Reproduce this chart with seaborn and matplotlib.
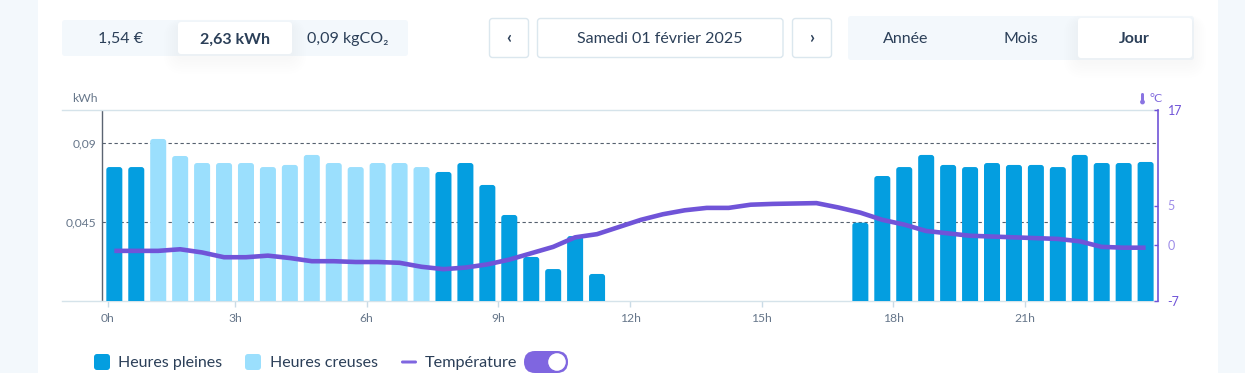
import matplotlib
matplotlib.use("Agg")
import matplotlib.pyplot as plt
import numpy as np
import pandas as pd
import seaborn as sns
from matplotlib.patches import Circle, FancyBboxPatch

creneaux = [f"{h}h{m:02d}" for h in range(24) for m in (0, 30)]
tarifs = ["Heures pleines"] * 2 + ["Heures creuses"] * 13 + ["Heures pleines"] * 33
consommation = [
    0.0763, 0.0763, 0.0923, 0.0826, 0.0786, 0.0786, 0.0786, 0.0763,
    0.0775, 0.0832, 0.0786, 0.0763, 0.0786, 0.0786, 0.0763, 0.0735,
    0.0786, 0.0661, 0.0490, 0.0251, 0.0182, 0.0370, 0.0154, np.nan,
    np.nan, np.nan, np.nan, np.nan, np.nan, np.nan, np.nan, np.nan,
    np.nan, np.nan, 0.0446, 0.0712, 0.0763, 0.0832, 0.0775, 0.0763,
    0.0786, 0.0775, 0.0775, 0.0763, 0.0832, 0.0786, 0.0786, 0.0792,
]
temperature = [
    -0.7, -0.7, -0.7, -0.5, -0.9, -1.5, -1.5, -1.3, -1.6, -2.0, -2.0, -2.1,
    -2.1, -2.2, -2.7, -3.0, -2.8, -2.4, -1.8, -1.0, -0.2, 1.0, 1.4, 2.3,
    3.2, 3.9, 4.4, 4.7, 4.7, 5.1, 5.2, 5.25, 5.3, 4.75, 4.1, 3.2,
    2.6, 1.8, 1.5, 1.2, 1.1, 1.0, 0.9, 0.8, 0.5, -0.2, -0.3, -0.3,
]
heures_labels = ["0h", "3h", "6h", "9h", "12h", "15h", "18h", "21h"]
heures_pos = [-0.3, 5.5, 11.5, 17.5, 23.5, 29.5, 35.5, 41.5]
kwh_ticks = [0.045, 0.09]
kwh_labels = ["0,045", "0,09"]
temp_ticks = [-7, 0, 5, 17]

BLUE = "#049ee0"
LIGHT = "#9bdffd"
PURPLE = "#7054d8"
INK = "#2b3f58"
SLATE = "#66768a"
PANEL = "#f3f8fc"
EDGE = "#dbe7ee"

sns.set_theme(style="white")
plt.rcParams["font.family"] = ["Lato", "DejaVu Sans"]

fig = plt.figure(figsize=(12.45, 3.73), dpi=100, facecolor=PANEL)

# page furniture, in pixel coordinates of the screenshot
ui = fig.add_axes([0, 0, 1, 1], zorder=0)
ui.set_xlim(0, 1245)
ui.set_ylim(373, 0)
ui.axis("off")


def box(x0, y0, x1, y1, fc="white", ec="none", r=3, lw=1.0, alpha=1.0):
    ui.add_patch(FancyBboxPatch((x0, y0), x1 - x0, y1 - y0, boxstyle=f"round,pad=0,rounding_size={r}",
                                fc=fc, ec=ec, lw=lw, alpha=alpha))


def shadow(x0, y0, x1, y1):
    for grow in range(14, 0, -2):
        box(x0 - grow, y0 + 4 - grow / 2, x1 + grow, y1 + 3 + grow * 1.2, fc="#b8c6d8", r=6 + grow, alpha=0.013)


def label(x, y, s, size=11.5, color=INK, ha="center", weight="normal"):
    ui.text(x, y + 1.3, s, fontsize=size, color=color, ha=ha, va="center", fontweight=weight)


ui.add_patch(plt.Rectangle((38, 0), 1180, 373, fc="white", ec="none"))

box(62, 20, 408, 56, fc=PANEL)
shadow(178, 22, 292, 54)
box(178, 22, 292, 54)
label(121, 38, "1,54 €")
label(235, 38, "2,63 kWh", weight="bold")
label(348, 38, "0,09 kgCO₂")

box(489.5, 18.5, 528.5, 57.5, ec=EDGE)
box(537.5, 18.5, 783, 57.5, ec=EDGE)
box(792.5, 18.5, 831.5, 57.5, ec=EDGE)
label(509, 36.5, "‹", size=12.5, weight="bold")
label(660, 38, "Samedi 01 février 2025")
label(812, 36.5, "›", size=12.5, weight="bold")

box(848, 16, 1194, 60, fc=PANEL)
shadow(1078, 18, 1192, 58)
box(1078, 18, 1192, 58)
label(906, 38, "Année")
label(1021, 38, "Mois")
label(1134, 38, "Jour", weight="bold")

label(72, 97, "kWh", size=8.7, color=SLATE, ha="left")
box(1141, 93, 1144, 102, fc="#8a74e2", r=1.5)
ui.add_patch(Circle((1142.5, 102), 2.4, fc="#8a74e2", ec="none"))
label(1149, 97, "°C", size=8.7, color="#7d66dc", ha="left")

box(94, 354, 110, 370, fc=BLUE)
label(118, 362, "Heures pleines", ha="left")
box(245, 354, 261, 370, fc=LIGHT)
label(270, 362, "Heures creuses", ha="left")
box(401, 360.5, 417, 363.5, fc="#7f66e0", r=1.5)
label(425, 362, "Température", ha="left", size=11.7)
box(524, 351, 568, 373, fc="#7f66e0", r=11)
ui.add_patch(Circle((557, 362), 9.5, fc="white", ec="#7f66e0", lw=1))

# chart
ax = fig.add_axes([62 / 1245, 72 / 373, 1096 / 1245, 191 / 373], zorder=1)
ax.patch.set_visible(False)
df = pd.DataFrame({"creneau": creneaux, "kwh": consommation, "tarif": tarifs})
sns.barplot(data=df, x="creneau", y="kwh", hue="tarif", order=creneaux, dodge=False, width=0.73,
            palette={"Heures pleines": BLUE, "Heures creuses": LIGHT}, saturation=1, legend=False, ax=ax, zorder=3)
ax.set_xlim(-2.385, 47.565)
ax.set_ylim(0, 0.1088)
ax.set_xlabel("")
ax.set_ylabel("")
ax.set_xticks(heures_pos, heures_labels)
ax.set_yticks(kwh_ticks, kwh_labels)
ax.tick_params(axis="x", length=4, width=1, color="#c9dbe6", labelcolor=SLATE, labelsize=8.7, pad=4.5, bottom=True)
ax.tick_params(axis="y", length=0, labelcolor=SLATE, labelsize=8.7, pad=-25)
axis_x = 39.5 / 1096
for y in kwh_ticks:
    ax.plot([axis_x, 1], [y, y], transform=ax.get_yaxis_transform(), color="#55606e", lw=0.8,
            dashes=(3, 2.4), zorder=1)
for side in ("left", "right"):
    ax.spines[side].set_visible(False)
ax.spines["top"].set_color("#d5e3ea")
ax.spines["bottom"].set_color("#d5e3ea")
ax.spines["top"].set_linewidth(1)
ax.spines["bottom"].set_linewidth(1)
ax.plot([axis_x] * 2, [0, 1], transform=ax.transAxes, color="#5b6472", lw=1, zorder=2)

# swap the seaborn bars for the same bars with rounded tops, bottoms hidden under the axis
aspect = (0.1088 / 191) / (49.95 / 1096)
for rect in list(ax.patches):
    height = rect.get_height()
    rect.set_visible(False)
    if not np.isfinite(height) or height == 0:
        continue
    rounded = FancyBboxPatch((rect.get_x(), -0.004), rect.get_width(), height + 0.004,
                             boxstyle="round,pad=0,rounding_size=0.13", mutation_aspect=aspect,
                             fc=rect.get_facecolor(), ec="none", zorder=3)
    ax.add_patch(rounded)

ax2 = ax.twinx()
ax2.set_zorder(2)
ax2.patch.set_visible(False)
sns.lineplot(x=np.arange(len(temperature)), y=temperature, color=PURPLE, lw=3.3, ax=ax2, zorder=4)
ax2.lines[0].set_solid_capstyle("butt")
ax2.set_ylim(-7, 17)
ax2.set_yticks(temp_ticks, [str(t) for t in temp_ticks])
ax2.yaxis.tick_right()
ax2.tick_params(axis="y", direction="in", length=3, width=1, color=PURPLE, labelcolor=PURPLE, labelsize=9, pad=7, right=True)
for t, v in zip(ax2.get_yticklabels(), temp_ticks):
    if v in (0, 5):
        t.set_color("#9d8ce8")
for side in ("left", "top", "bottom"):
    ax2.spines[side].set_visible(False)
ax2.spines["right"].set_color(PURPLE)
ax2.spines["right"].set_linewidth(1.2)

fig.savefig("out.png", dpi=100, facecolor=fig.get_facecolor())
plt.close(fig)
